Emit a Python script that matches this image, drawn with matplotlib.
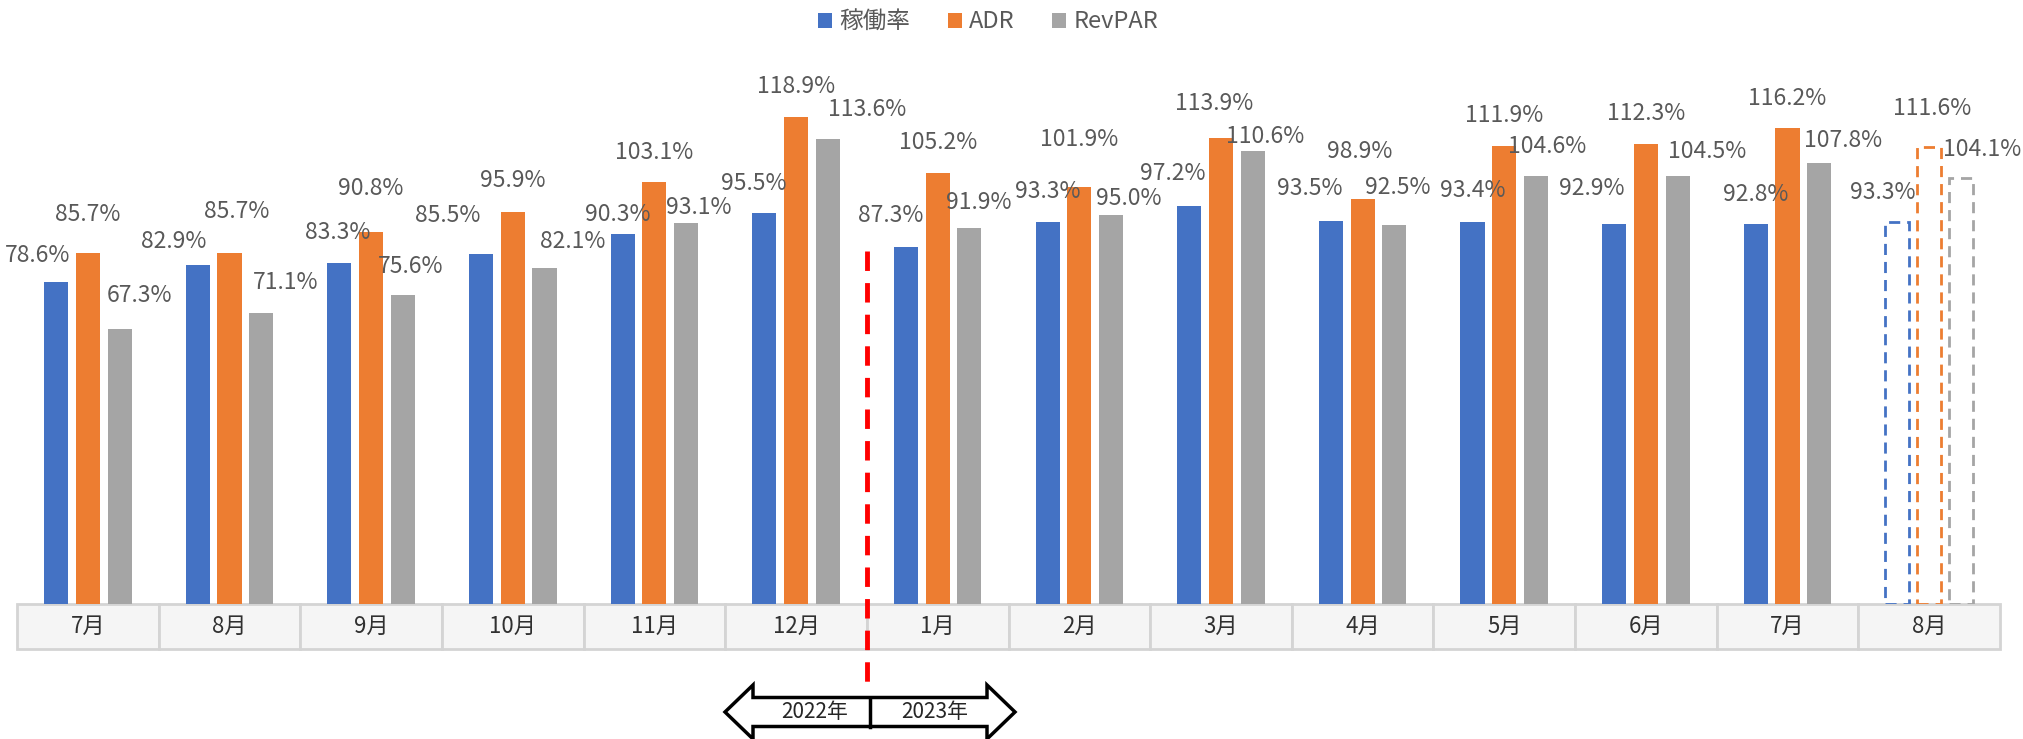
import matplotlib

matplotlib.use("Agg")
import matplotlib.pyplot as plt
from matplotlib.patches import Patch, Polygon
from matplotlib.lines import Line2D

plt.rcParams["font.family"] = ["Noto Sans CJK JP", "DejaVu Sans"]

months = ["7月", "8月", "9月", "10月", "11月", "12月", "1月", "2月", "3月",
          "4月", "5月", "6月", "7月", "8月"]
occupancy = [78.6, 82.9, 83.3, 85.5, 90.3, 95.5, 87.3, 93.3, 97.2, 93.5, 93.4, 92.9, 92.8, 93.3]
adr = [85.7, 85.7, 90.8, 95.9, 103.1, 118.9, 105.2, 101.9, 113.9, 98.9, 111.9, 112.3, 116.2, 111.6]
revpar = [67.3, 71.1, 75.6, 82.1, 93.1, 113.6, 91.9, 95.0, 110.6, 92.5, 104.6, 104.5, 107.8, 104.1]
series_names = ["稼働率", "ADR", "RevPAR"]
forecast_from = 13  # last month is a forecast, drawn dashed

colors = ["#4472C4", "#ED7D31", "#A5A5A5"]
label_color = "#595959"

# label nudges in pixels (dx, dy above bar top), to copy the hand-placed Excel labels
label_offsets = [
    [(-19, 27), (-24, 23), (-2, 31), (-33, 39), (-5, 20), (-11, 30), (-15, 31),
     (0, 31), (-16, 33), (-21, 33), (0, 31), (-22, 35), (0, 30), (-15, 30)],
    [(0, 39), (7, 42), (0, 44), (0, 31), (0, 30), (0, 31), (0, 31),
     (0, 47), (-7, 34), (-3, 48), (0, 31), (0, 31), (0, 30), (3, 39)],
    [(20, 33), (24, 31), (8, 28), (28, 27), (13, 16), (39, 30), (9, 25),
     (18, 17), (12, 15), (3, 38), (11, 29), (30, 25), (24, 22), (21, 28)],
]

W, H = 2024, 739
fig = plt.figure(figsize=(W / 100, H / 100), dpi=100)
ax = fig.add_axes([17 / W, 135 / H, 1983 / W, 532 / H])
ax.set_xlim(-0.5, len(months) - 0.5)
ax.set_ylim(0, 130)
for s in ax.spines.values():
    s.set_visible(False)
ax.set_xticks([])
ax.set_yticks([])

width = 0.17
step = 0.224
for k, (vals, col) in enumerate(zip([occupancy, adr, revpar], colors)):
    xs = [i + (k - 1) * step for i in range(len(months))]
    ax.bar(xs[:forecast_from], vals[:forecast_from], width, color=col)
    ax.bar(xs[forecast_from:], vals[forecast_from:], width, fill=False,
           edgecolor=col, linestyle=(0, (4, 2.5)), linewidth=2)
    for x, v, (dx, dy) in zip(xs, vals, label_offsets[k]):
        ax.annotate(f"{v:.1f}%", (x, v), xytext=(dx, dy), textcoords="offset pixels",
                    ha="center", va="center", fontsize=16.5, color=label_color)

# month table under the bars
tbl = ax.table(cellText=[months], cellLoc="center", bbox=[0, -45 / 532, 1, 45 / 532])
tbl.auto_set_font_size(False)
tbl.set_fontsize(16)
for cell in tbl.get_celld().values():
    cell.set_facecolor("#F5F5F5")
    cell.set_edgecolor("#D4D4D4")
    cell.set_linewidth(2)
    cell.get_text().set_color("#303030")

# year boundary
ax.add_line(Line2D([5.5, 5.5], [0.664, -0.158], transform=ax.get_xaxis_transform(),
                   color="#FF0000", linewidth=3.5, linestyle=(0, (4, 2.5)), clip_on=False))

# double arrow 2022 / 2023
cy = H - 712
pts = [(725, cy), (753, cy + 27), (753, cy + 14.5), (987, cy + 14.5), (987, cy + 27),
       (1015, cy), (987, cy - 27), (987, cy - 14.5), (753, cy - 14.5), (753, cy - 27)]
fig.patches.append(Polygon([(x / W, y / H) for x, y in pts], closed=True,
                           transform=fig.transFigure, facecolor="white",
                           edgecolor="black", linewidth=2.5))
fig.lines.append(Line2D([870 / W, 870 / W], [(cy - 14.5) / H, (cy + 14.5) / H],
                        transform=fig.transFigure, color="black", linewidth=2.5))
fig.text(815 / W, cy / H, "2022年", ha="center", va="center", fontsize=15, color="#262626")
fig.text(935 / W, cy / H, "2023年", ha="center", va="center", fontsize=15, color="#262626")

handles = [Patch(facecolor=c, label=n) for c, n in zip(colors, series_names)]
fig.legend(handles=handles, loc="center", bbox_to_anchor=(988 / W, 1 - 22 / H), ncol=3,
           frameon=False, fontsize=17, handlelength=0.6, handleheight=0.6,
           handletextpad=0.3, columnspacing=1.6, labelcolor="#595959")

fig.savefig("out.png", dpi=100)
